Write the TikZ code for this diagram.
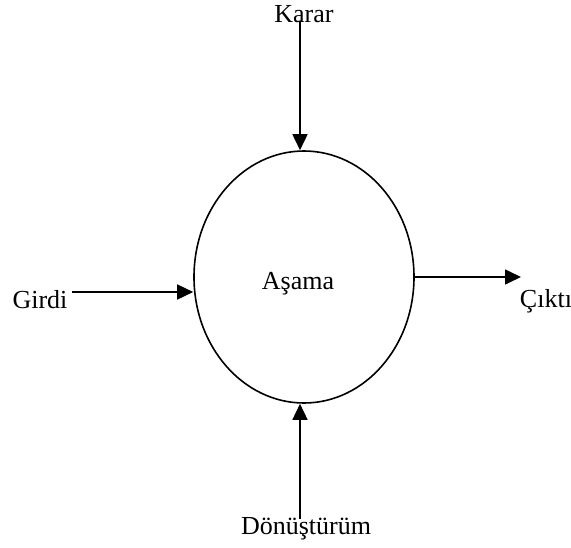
\documentclass[tikz,border=0pt]{standalone}
\usepackage{fontspec}
\setmainfont{Liberation Serif}
\usetikzlibrary{arrows.meta,shapes.geometric}
\begin{document}
\begin{tikzpicture}[x=1pt,y=-1pt,
  lbl/.style={font=\fontsize{26}{30}\selectfont, inner sep=0pt},
  arr/.style={line width=1.6pt, -{Triangle[length=16pt,width=15pt]}},
  stage/.style={ellipse, draw, line width=1.6pt, minimum width=220pt, minimum height=252pt, inner sep=0pt}]
\useasboundingbox (0,0) rectangle (571,547);
\node[stage, lbl] (asama) at (304,277) {};
\node[lbl] (asamatxt) at (298,284) {Aşama};
\node[lbl] (karar) at (304,14) {Karar};
\node[lbl] (girdi) at (40,300) {Girdi};
\node[lbl] (cikti) at (546,301) {Çıktı};
\node[lbl] (donus) at (306,529) {Dönüştürüm};
\coordinate (k0) at (300,21);
\coordinate (g0) at (72,292);
\coordinate (c1) at (521,277);
\coordinate (d0) at (300,519);
\draw[arr] (k0) -- (asama.north -| k0);
\draw[arr] (g0) -- (asama.west |- g0);
\draw[arr] (asama.east) -- (c1);
\draw[arr] (d0) -- (asama.south -| d0);
\end{tikzpicture}
\end{document}
